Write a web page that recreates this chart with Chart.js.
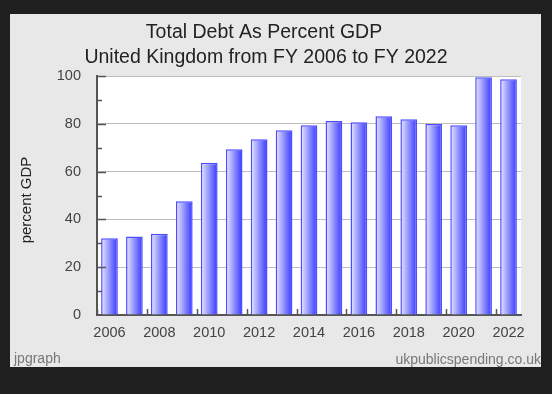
<!DOCTYPE html>
<html>
<head>
<meta charset="utf-8">
<script src="https://cdn.jsdelivr.net/npm/chart.js@4.4.1/dist/chart.umd.min.js"></script>
<style>
  html, body { margin: 0; padding: 0; background: #1f1f1f; }
  canvas { display: block; }
</style>
</head>
<body>
<canvas id="debt" width="552" height="394"></canvas>
<script>
// data
var years = ['2006', '2007', '2008', '2009', '2010', '2011', '2012', '2013', '2014',
  '2015', '2016', '2017', '2018', '2019', '2020', '2021', '2022'];
var debtPct = [32.1, 32.8, 34.0, 47.6, 63.7, 69.4, 73.5, 77.3, 79.4,
  81.2, 80.6, 83.2, 81.9, 79.9, 79.4, 99.5, 98.6];
var titleLines = ['Total Debt As Percent GDP', 'United Kingdom from FY 2006 to FY 2022'];
var yTitle = 'percent GDP';

var FONT = '"Liberation Sans", Arial, sans-serif';
var BAR_PCT = 0.67;

// panel, plot background, titles, credits
var frame = {
  id: 'frame',
  beforeDraw: function(chart) {
    var ctx = chart.ctx, a = chart.chartArea;
    ctx.save();
    ctx.fillStyle = '#e8e8e8';
    ctx.fillRect(10, 14, 531, 353);
    ctx.fillStyle = '#ffffff';
    ctx.fillRect(a.left, a.top, a.right - a.left, a.bottom - a.top);
    ctx.restore();
  },
  afterDatasetsDraw: function(chart) {
    var ctx = chart.ctx, a = chart.chartArea;
    var y = chart.scales.y;
    ctx.save();
    ctx.strokeStyle = '#555555';
    ctx.lineWidth = 1.5;
    ctx.beginPath();
    // x tick marks between slots, every 2 years, pointing up
    var slot = (a.right - a.left) / years.length;
    for (var i = 0; i <= years.length; i += 2) {
      var px = Math.round(a.left + i * slot) + 0.5;
      ctx.moveTo(px, a.bottom);
      ctx.lineTo(px, a.bottom - 6);
    }
    // y major and minor tick marks, pointing right
    for (var v = 10; v <= 100; v += 10) {
      var py = Math.round(y.getPixelForValue(v)) + 0.5;
      ctx.moveTo(a.left, py);
      ctx.lineTo(a.left + (v % 20 === 0 ? 9 : 5), py);
    }
    ctx.stroke();

    ctx.fillStyle = '#222222';
    ctx.font = '19.5px ' + FONT;
    ctx.textAlign = 'center';
    ctx.textBaseline = 'middle';
    ctx.fillText(titleLines[0], 264, 33);
    ctx.fillText(titleLines[1], 266, 58);

    // y axis title
    ctx.save();
    ctx.translate(27, 200);
    ctx.rotate(-Math.PI / 2);
    ctx.font = '15px ' + FONT;
    ctx.fillText(yTitle, 0, 0);
    ctx.restore();

    ctx.fillStyle = '#777777';
    ctx.font = '14px ' + FONT;
    ctx.textAlign = 'left';
    ctx.fillText('jpgraph', 14, 359);
    ctx.textAlign = 'right';
    ctx.fillText('ukpublicspending.co.uk', 541, 360);
    ctx.restore();
  }
};

function barGradient(c) {
  var chart = c.chart, x = chart.scales.x;
  if (!x || !chart.chartArea) return '#8080ff';
  var cx = x.getPixelForValue(c.dataIndex);
  var w = (x.width / years.length) * BAR_PCT;
  var g = chart.ctx.createLinearGradient(cx - w / 2, 0, cx + w / 2, 0);
  g.addColorStop(0, '#eaeaff');
  g.addColorStop(1, '#3636ff');
  return g;
}

new Chart(document.getElementById('debt'), {
  type: 'bar',
  data: {
    labels: years,
    datasets: [{
      data: debtPct,
      backgroundColor: barGradient,
      borderColor: '#4d4dff',
      borderWidth: 1.5,
      barPercentage: BAR_PCT,
      categoryPercentage: 1
    }]
  },
  plugins: [frame],
  options: {
    responsive: false,
    animation: false,
    layout: { padding: { left: 10, right: 31, top: 76, bottom: 0 } },
    plugins: {
      legend: { display: false },
      title: { display: false },
      tooltip: { enabled: false }
    },
    scales: {
      x: {
        offset: true,
        grid: { display: false },
        border: { color: '#555555', width: 2 },
        ticks: {
          color: '#444444',
          font: { family: FONT, size: 14.5 },
          padding: 1,
          autoSkip: false,
          maxRotation: 0,
          callback: function(val, i) { return i % 2 === 0 ? years[i] : ''; }
        },
        afterFit: function(s) { s.height = 79; }
      },
      y: {
        min: 0,
        max: 100,
        grid: { color: '#bdbdbd', lineWidth: 1, drawTicks: false },
        border: { color: '#555555', width: 2 },
        ticks: {
          stepSize: 20,
          color: '#444444',
          font: { family: FONT, size: 14.5 },
          padding: 16
        },
        afterFit: function(s) { s.width = 87; }
      }
    }
  }
});
</script>
</body>
</html>
